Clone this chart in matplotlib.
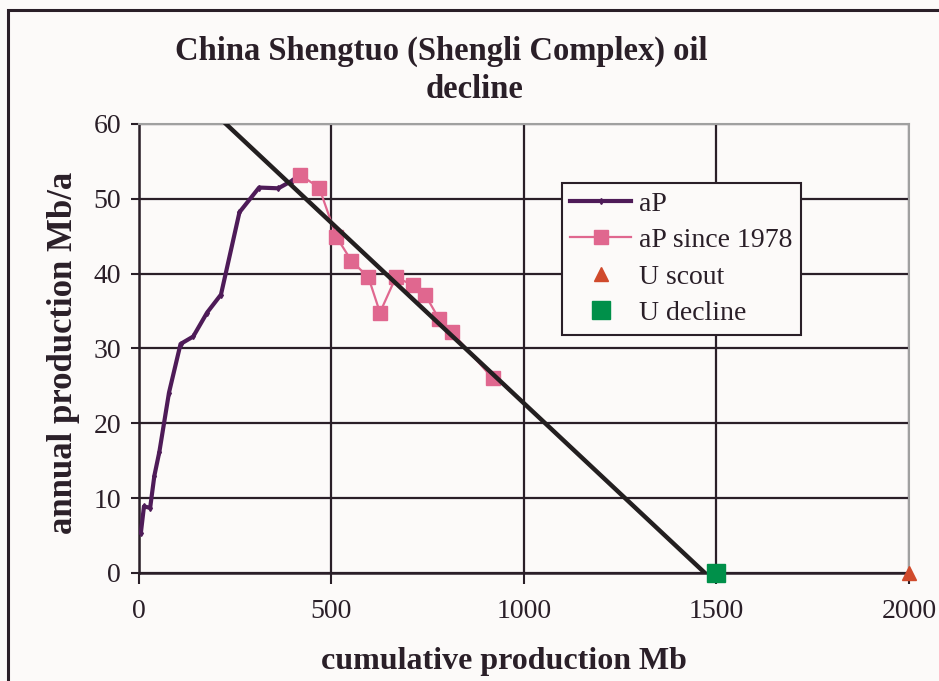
import numpy as np
import matplotlib.pyplot as plt
from matplotlib.patches import Rectangle

# annual production vs cumulative production (Mb)
cum_all = [5, 13, 29, 40, 53, 78, 108, 141, 177, 213, 261, 312, 362, 397, 418]
ap_all = [5.4, 8.9, 8.7, 13.0, 16.2, 24.1, 30.6, 31.6, 34.8, 37.2, 48.2, 51.5, 51.4, 52.4, 53.2]

cum_1978 = [418, 468, 513, 552, 596, 626, 667, 711, 743, 780, 812, 919]
ap_1978 = [53.2, 51.5, 44.9, 41.7, 39.5, 34.8, 39.5, 38.5, 37.2, 33.9, 32.2, 26.0]

u_scout = 2000
u_decline = 1500

# linear decline fit: y = a0 * (1 - x/U)
fit_a0 = 70.9
fit_U = 1470

serif = "Liberation Serif"
dark = "#2a1f28"
bg = "#fcfaf9"

fig = plt.figure(figsize=(9.39, 6.81), dpi=100, facecolor=bg)
ax = fig.add_axes([0.148, 0.1586, 0.820, 0.6594], facecolor=bg)

ax.grid(True, color=dark, linewidth=1.6, zorder=0)
ax.set_axisbelow(True)

ax.plot(cum_all, ap_all, color="#4e1b58", lw=3, marker="d", ms=3, zorder=3, label="aP")
ax.plot(cum_1978, ap_1978, color="#e0678f", lw=1.6, marker="s", ms=10, zorder=4,
        label="aP since 1978")
ax.plot([u_scout], [0], linestyle="none", marker="^", ms=10, color="#d04a2c",
        zorder=6, clip_on=False, label="U scout")
ax.plot([u_decline], [0], linestyle="none", marker="s", ms=13, color="#00904a",
        zorder=6, clip_on=False, label="U decline")

fx = np.array([0, fit_U])
ax.plot(fx, fit_a0 * (1 - fx / fit_U), color="#231f20", lw=3.2, zorder=5)

ax.set_xlim(0, 2000)
ax.set_ylim(0, 60)
ax.set_xticks([0, 500, 1000, 1500, 2000])
ax.set_yticks(range(0, 61, 10))
ax.tick_params(axis="x", direction="out", length=8, width=1.5, color=dark, pad=11)
ax.tick_params(axis="y", direction="out", length=6, width=1.5, color=dark, pad=7)
for lab in ax.get_xticklabels() + ax.get_yticklabels():
    lab.set_fontfamily(serif)
    lab.set_fontsize(20)
    lab.set_color(dark)

for s in ["top", "right"]:
    ax.spines[s].set_color("#a0a0a0")
    ax.spines[s].set_linewidth(1.5)
for s in ["left", "bottom"]:
    ax.spines[s].set_color(dark)
    ax.spines[s].set_linewidth(1.8)

ax.set_xlabel("cumulative production Mb", fontfamily=serif, fontsize=23,
              fontweight="bold", color=dark)
ax.xaxis.set_label_coords(0.474, -0.165)
ax.set_ylabel("annual production Mb/a", fontfamily=serif, fontsize=25,
              fontweight="bold", color=dark)
ax.yaxis.set_label_coords(-0.077, 0.49)

fig.text(0.470, 0.925, "China Shengtuo (Shengli Complex) oil", ha="center", va="center",
         fontfamily=serif, fontsize=23.5, fontweight="bold", color=dark)
fig.text(0.505, 0.869, "decline", ha="center", va="center",
         fontfamily=serif, fontsize=23.5, fontweight="bold", color=dark)

leg = ax.legend(loc="upper left", bbox_to_anchor=(0.549, 0.869), frameon=True, fancybox=False,
                prop={"family": serif, "size": 20}, handlelength=2.2, handletextpad=0.3,
                borderpad=0.3, labelspacing=0.4, borderaxespad=0, facecolor=bg, framealpha=1)
leg.get_frame().set_edgecolor(dark)
leg.get_frame().set_linewidth(1.5)
for t in leg.get_texts():
    t.set_color(dark)

fig.patches.append(Rectangle((8 / 939, -0.1), 1.2, 1 - 10 / 681 + 0.1, transform=fig.transFigure,
                             fill=False, edgecolor=dark, linewidth=2.2))

fig.savefig("out.png", dpi=100, facecolor=bg)
